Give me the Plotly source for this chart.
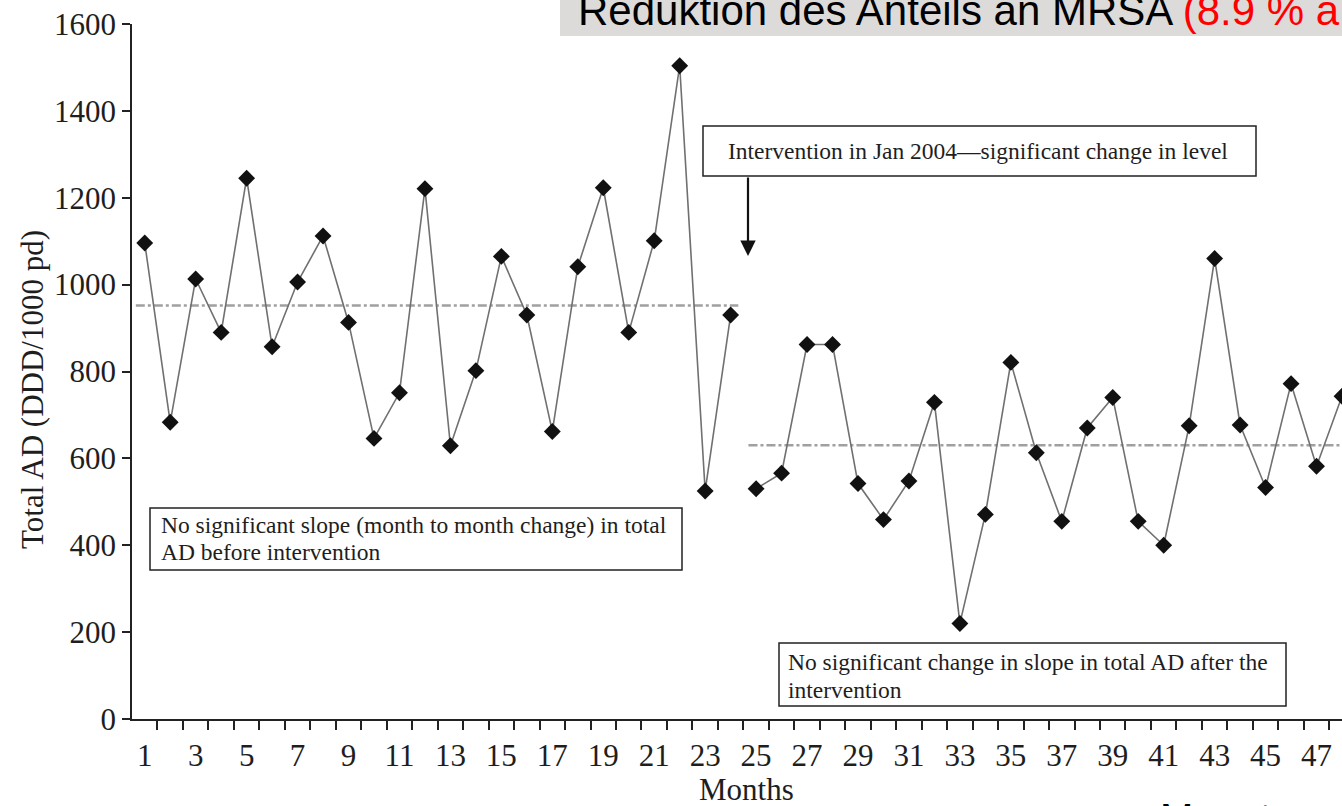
import plotly.graph_objects as go

# Monthly total antibiotic use (DDD per 1000 patient days)
pre_months = list(range(1, 25))
pre_values = [1096, 683, 1013, 890, 1245, 857, 1006, 1112, 913, 646, 751, 1221,
              629, 802, 1065, 930, 662, 1041, 1223, 890, 1101, 1504, 525, 930]
post_months = list(range(25, 49))
post_values = [530, 566, 862, 862, 542, 459, 548, 729, 220, 471, 821, 613,
               455, 670, 740, 455, 400, 675, 1060, 677, 533, 772, 582, 743]

# Mean level in each phase
pre_mean = 952
post_mean = 630

x_tick_vals = list(range(1, 48, 2))
x_tick_text = [str(v) for v in x_tick_vals]
y_tick_vals = list(range(0, 1601, 200))

SERIF = "Liberation Serif"
SANS = "Liberation Sans"
INK = "#1e1e1e"

W, H = 1342, 806
L, R, T, B = 132, 0, 24, 87
PW, PH = W - L - R, H - T - B


def px_x(x):
    return (x - L) / PW


def px_y(y):
    return (H - B - y) / PH


fig = go.Figure()

# phase means (dash-dot reference lines)
fig.add_trace(go.Scatter(x=[pre_months[0] - 0.35, pre_months[-1] + 0.3], y=[pre_mean, pre_mean],
                         mode="lines", line=dict(color="#a0a0a0", width=2.5, dash="dashdot"),
                         hoverinfo="skip", showlegend=False))
fig.add_trace(go.Scatter(x=[post_months[0] - 0.3, post_months[-1] + 0.5], y=[post_mean, post_mean],
                         mode="lines", line=dict(color="#a0a0a0", width=2.5, dash="dashdot"),
                         hoverinfo="skip", showlegend=False))

marker = dict(symbol="diamond", size=13, color="#111111")
line = dict(color="#707070", width=1.6)
fig.add_trace(go.Scatter(x=pre_months, y=pre_values, mode="lines+markers",
                         marker=marker, line=line, showlegend=False, cliponaxis=False))
fig.add_trace(go.Scatter(x=post_months, y=post_values, mode="lines+markers",
                         marker=marker, line=line, showlegend=False, cliponaxis=False))

shapes = []
annotations = []


def text_box(x0, y0, x1, y1, lines, tx, line_ys, size=23.5):
    shapes.append(dict(type="rect", xref="paper", yref="paper",
                       x0=px_x(x0), x1=px_x(x1), y0=px_y(y1), y1=px_y(y0),
                       line=dict(color="#222222", width=1.5), fillcolor="white", layer="above"))
    for text, ty in zip(lines, line_ys):
        annotations.append(dict(xref="paper", yref="paper", x=px_x(tx), y=px_y(ty),
                                xanchor="left", yanchor="middle", align="left", showarrow=False,
                                text=text, font=dict(family=SERIF, size=size, color=INK)))


text_box(703, 126, 1256, 176, ["Intervention in Jan 2004\u2014significant change in level"], 726, [151])
text_box(150, 508, 682, 570,
         ["No significant slope (month to month change) in total", "AD before intervention"],
         159, [525, 552])
text_box(779, 643, 1286, 706,
         ["No significant change in slope in total AD after the", "intervention"],
         786, [662, 690])

# intervention arrow
annotations.append(dict(xref="paper", yref="paper", x=px_x(748), y=px_y(256), ax=0, ay=-80,
                        axref="pixel", ayref="pixel", showarrow=True, text="",
                        arrowhead=2, arrowsize=1.4, arrowwidth=2.2, arrowcolor="#111111"))

# axis titles
annotations.append(dict(xref="paper", yref="paper", x=px_x(746), y=px_y(789), showarrow=False,
                        text="Months", font=dict(family=SERIF, size=31, color=INK),
                        xanchor="center", yanchor="middle"))
annotations.append(dict(xref="paper", yref="paper", x=px_x(32), y=px_y(390), showarrow=False,
                        text="Total AD (DDD/1000 pd)", textangle=-90,
                        font=dict(family=SERIF, size=31, color=INK),
                        xanchor="center", yanchor="middle"))

# slide banner
shapes.append(dict(type="rect", xref="paper", yref="paper",
                   x0=px_x(560), x1=px_x(W + 5), y0=px_y(36), y1=px_y(-5),
                   line=dict(width=0), fillcolor="#dcdbda", layer="below"))
annotations.append(dict(xref="paper", yref="paper", x=px_x(576), y=px_y(10), showarrow=False,
                        xanchor="left", yanchor="middle",
                        text="Reduktion des Anteils an MRSA <span style='color:#ff0000'>(8.9 % a</span>",
                        font=dict(family=SANS, size=42, color="#000000")))
annotations.append(dict(xref="paper", yref="paper", x=px_x(1158), y=px_y(818), showarrow=False,
                        xanchor="left", yanchor="middle", text="Monate",
                        font=dict(family=SANS, size=40, color="#000000")))

fig.update_layout(
    width=W, height=H,
    margin=dict(l=L, r=R, t=T, b=B, pad=0),
    paper_bgcolor="white", plot_bgcolor="white",
    shapes=shapes, annotations=annotations,
    xaxis=dict(range=[0.5, 48.0], showgrid=False, zeroline=False,
               showline=True, linecolor="#222222", linewidth=1.6,
               tickmode="array", tickvals=x_tick_vals, ticktext=x_tick_text,
               ticks="outside", ticklen=8, tickcolor="rgba(0,0,0,0)",
               tickfont=dict(family=SERIF, size=31, color=INK),
               minor=dict(tickmode="array", tickvals=[m + 0.5 for m in range(1, 48)],
                          ticks="outside", ticklen=9, tickwidth=1.5, tickcolor="#222222",
                          showgrid=False)),
    yaxis=dict(range=[0, 1600], showgrid=False, zeroline=False,
               showline=True, linecolor="#222222", linewidth=1.6,
               tickmode="array", tickvals=y_tick_vals,
               ticks="outside", ticklen=8, tickwidth=1.5, tickcolor="#222222",
               tickfont=dict(family=SERIF, size=31, color=INK)),
)

fig.write_html("out.html")
